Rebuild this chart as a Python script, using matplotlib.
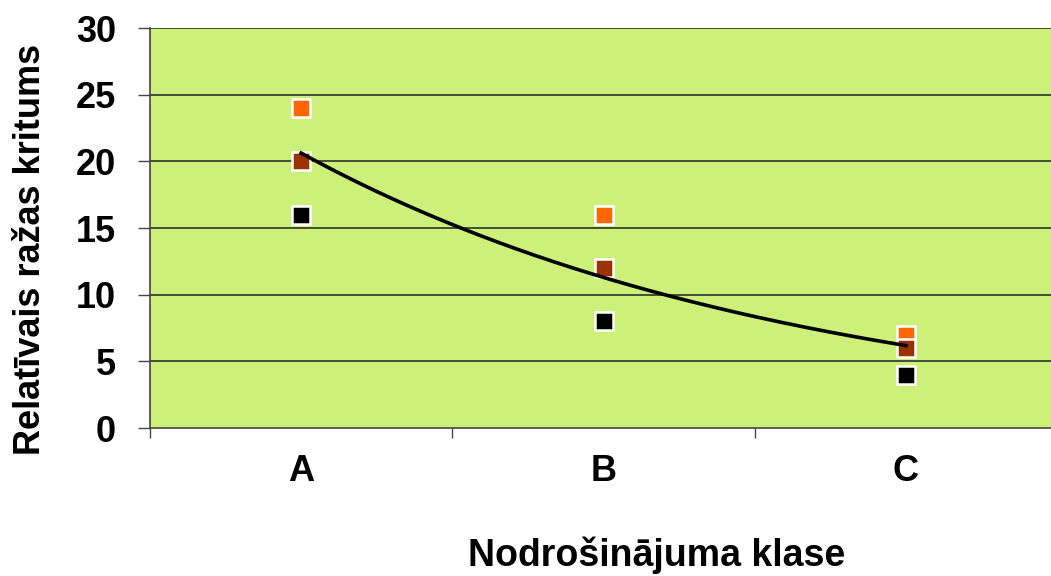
import numpy as np
import matplotlib
matplotlib.use("Agg")
import matplotlib.pyplot as plt

categories = ["A", "B", "C"]
series_high = [24, 16, 7]     # orange
series_mid = [20, 12, 6]      # brown
series_low = [16, 8, 4]       # black
y_ticks = [0, 5, 10, 15, 20, 25, 30]

plt.rcParams['font.family'] = ['Liberation Sans', 'DejaVu Sans']

W, H = 1051, 576
fig = plt.figure(figsize=(W / 100, H / 100), dpi=100)
ax = fig.add_axes([150 / W, 148 / H, 907 / W, 400 / H])
ax.set_facecolor('#CCF07A')

x = np.arange(len(categories))
ax.set_xlim(-0.5, len(categories) - 0.5)
ax.set_ylim(0, 30)

for yt in y_ticks[1:]:
    ax.axhline(yt, color='#222222', lw=1.1, zorder=1)

# exponential trend fitted to the middle series
b, ln_a = np.polyfit(x + 1, np.log(series_mid), 1)
xs = np.linspace(0, len(categories) - 1, 200)
ax.plot(xs, np.exp(ln_a + b * (xs + 1)), color='black', lw=2.6, zorder=4)

for vals, col in [(series_high, '#FF6600'), (series_mid, '#993300'), (series_low, '#000000')]:
    ax.plot(x, vals, linestyle='none', marker='s', ms=13, mfc=col,
            mec='white', mew=1.8, zorder=3)

fs = 26
ax.set_yticks(y_ticks)
ax.set_yticklabels([str(v) for v in y_ticks], fontsize=fs, fontweight='bold')
ax.set_xticks(x)
ax.set_xticklabels(categories, fontsize=fs, fontweight='bold')
ax.tick_params(axis='x', length=0, pad=19)
ax.set_xticks([-0.5, 0.5, 1.5, 2.5], minor=True)
ax.tick_params(axis='x', which='minor', length=7, width=1, color='#444444', direction='out')
ax.tick_params(axis='y', length=8.6, width=1, color='#444444', direction='out', pad=16)

for side in ['top', 'right']:
    ax.spines[side].set_visible(False)
for side in ['left', 'bottom']:
    ax.spines[side].set_color('#444444')
    ax.spines[side].set_linewidth(1.2)

fig.text(31 / W, 1 - 249 / H, 'Relatīvais ražas kritums', rotation=90,
         ha='center', va='center', fontsize=fs, fontweight='bold')
fig.text(657 / W, 1 - 566 / H, 'Nodrošinājuma klase',
         ha='center', va='baseline', fontsize=fs + 1, fontweight='bold')

fig.savefig('out.png', dpi=100)
